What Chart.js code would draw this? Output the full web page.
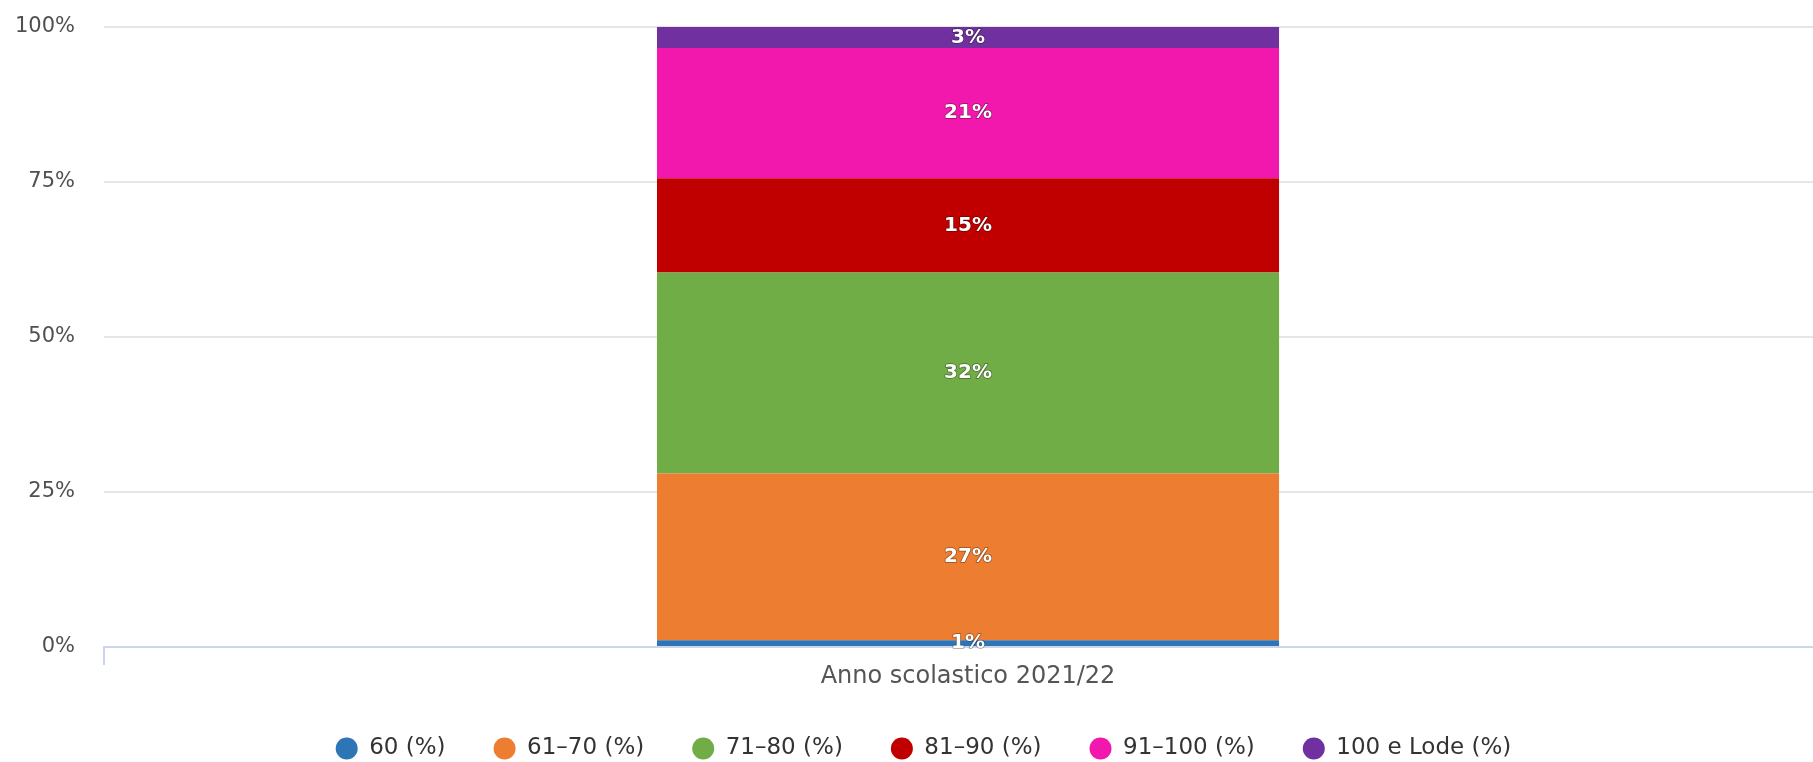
<!DOCTYPE html>
<html>
<head>
<meta charset="utf-8">
<script src="https://cdn.jsdelivr.net/npm/chart.js"></script>
<style>
  html, body { margin: 0; padding: 0; background: #fff; overflow: hidden; }
  canvas { display: block; }
</style>
</head>
<body>
<canvas id="myChart" width="1832" height="770"></canvas>
<script>
const ctx = document.getElementById('myChart');

// dati (percentuali per fascia di voto)
const categorie = ['Anno scolastico 2021/22'];
const fasce = ['60 (%)', '61–70 (%)', '71–80 (%)', '81–90 (%)', '91–100 (%)', '100 e Lode (%)'];
const voto60 = [1.1];
const voto61_70 = [26.9];
const voto71_80 = [32.4];
const voto81_90 = [15.2];
const voto91_100 = [21.0];
const voto100Lode = [3.4];
const tickY = [0, 25, 50, 75, 100];

const serie = [voto60, voto61_70, voto71_80, voto81_90, voto91_100, voto100Lode];
const colori = ['#2e75b6', '#ed7d31', '#70ad47', '#c00000', '#f218ae', '#7030a0'];

// etichette bianche al centro di ogni blocco
const etichette = {
    id: 'etichette',
    afterDatasetsDraw(chart) {
        const c = chart.ctx;
        c.save();
        c.font = 'bold 20px "DejaVu Sans"';
        c.textAlign = 'center';
        c.textBaseline = 'middle';
        c.lineJoin = 'round';
        chart.data.datasets.forEach((ds, i) => {
            chart.getDatasetMeta(i).data.forEach((bar, j) => {
                let testo = Math.round(ds.data[j]) + '%';
                let y = (bar.y + bar.base) / 2;
                c.lineWidth = 1.5;
                c.strokeStyle = 'rgba(0,0,0,0.4)';
                c.strokeText(testo, bar.x, y);
                c.fillStyle = '#ffffff';
                c.fillText(testo, bar.x, y);
            });
        });
        c.restore();
    }
};

let chart = new Chart(ctx, {
    type: 'bar',
    data: {
        labels: categorie,
        datasets: serie.map((valori, i) => ({
            label: fasce[i],
            data: valori,
            backgroundColor: colori[i],
            borderWidth: 0,
            barPercentage: 0.36,
            categoryPercentage: 1
        }))
    },
    options: {
        responsive: false,
        animation: false,
        layout: {
            padding: { top: 27, left: 15, right: 0, bottom: 0 }
        },
        scales: {
            x: {
                stacked: true,
                border: { color: '#ccd6eb', width: 2 },
                grid: {
                    drawOnChartArea: false,
                    tickLength: 18,
                    color: '#ccd6eb',
                    lineWidth: 2
                },
                ticks: {
                    padding: 0,
                    color: '#555555',
                    font: { family: '"DejaVu Sans"', size: 24, lineHeight: 1.0 }
                }
            },
            y: {
                stacked: true,
                min: 0,
                max: 100,
                afterBuildTicks: scale => {
                    scale.ticks = tickY.map(v => ({ value: v }));
                },
                border: { display: false },
                grid: {
                    drawTicks: true,
                    tickLength: 29,
                    tickColor: 'rgba(0,0,0,0)',
                    lineWidth: 2,
                    color: c => c.tick && c.tick.value === 0 ? '#ccd6eb' : '#e6e6e6'
                },
                ticks: {
                    padding: 0,
                    color: '#505050',
                    font: { family: '"DejaVu Sans"', size: 21 },
                    callback: v => v + '%'
                }
            }
        },
        plugins: {
            tooltip: { enabled: false },
            legend: {
                position: 'bottom',
                labels: {
                    usePointStyle: true,
                    pointStyle: 'circle',
                    boxHeight: 15.6,
                    pointStyleWidth: 22,
                    padding: 48,
                    color: '#333333',
                    font: { family: '"DejaVu Sans"', size: 23 }
                }
            }
        }
    },
    plugins: [etichette]
});
</script>
</body>
</html>
